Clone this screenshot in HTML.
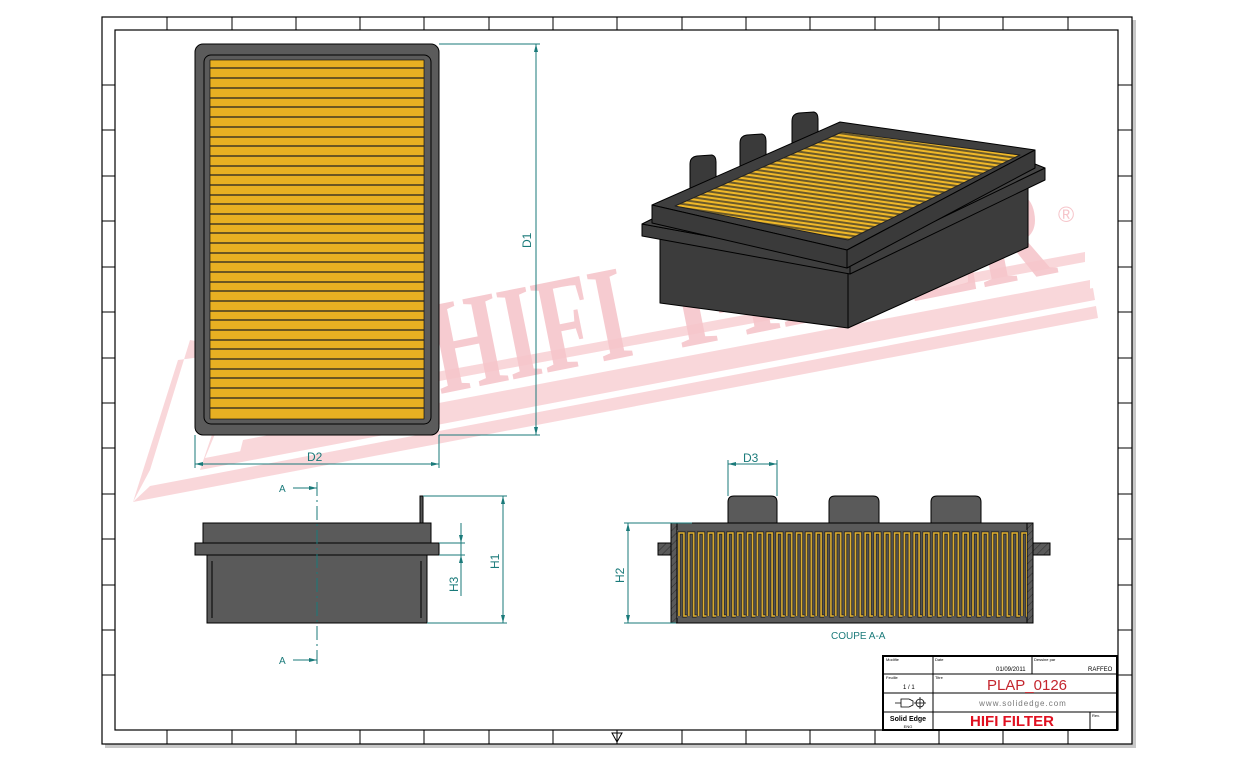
<!DOCTYPE html>
<html><head><meta charset="utf-8"><style>
html,body{margin:0;padding:0;background:#fff;}
svg{display:block;font-family:"Liberation Sans",sans-serif;}
</style></head><body>
<svg width="1233" height="762" viewBox="0 0 1233 762" xmlns="http://www.w3.org/2000/svg">
<defs>
<pattern id="pl" x="677" y="530" width="9.8" height="88" patternUnits="userSpaceOnUse">
<rect width="9.8" height="88" fill="#555"/>
<path d="M2,86 V3 H6.9 V86 H11.8" fill="none" stroke="#222" stroke-width="3.2"/>
<path d="M2,86 V3 H6.9 V86 H11.8" fill="none" stroke="#e0b030" stroke-width="1.6"/>
</pattern>
<pattern id="iso" width="6" height="4" patternUnits="userSpaceOnUse" patternTransform="rotate(8)">
<rect width="6" height="4" fill="#6b5a2a"/>
<rect y="0" width="6" height="2" fill="#f0b828"/>
</pattern>
<pattern id="hat" width="5" height="5" patternUnits="userSpaceOnUse" patternTransform="rotate(45)">
<rect width="5" height="5" fill="#5a5a5a"/><line x1="0" y1="0" x2="0" y2="5" stroke="#222" stroke-width="0.8"/>
</pattern>
</defs>
<rect width="1233" height="762" fill="#fff"/>
<rect x="105" y="20" width="1031" height="728" fill="#c8c8c8"/>
<rect x="102" y="17" width="1030" height="727" fill="#fff" stroke="#000" stroke-width="1.2"/>
<rect x="115" y="30" width="1003" height="700" fill="none" stroke="#000" stroke-width="1.2"/>
<g stroke="#000" stroke-width="1">
<line x1="167" y1="17" x2="167" y2="30"/><line x1="232" y1="17" x2="232" y2="30"/><line x1="296" y1="17" x2="296" y2="30"/><line x1="360" y1="17" x2="360" y2="30"/><line x1="424" y1="17" x2="424" y2="30"/><line x1="489" y1="17" x2="489" y2="30"/><line x1="553" y1="17" x2="553" y2="30"/><line x1="617" y1="17" x2="617" y2="30"/><line x1="682" y1="17" x2="682" y2="30"/><line x1="746" y1="17" x2="746" y2="30"/><line x1="810" y1="17" x2="810" y2="30"/><line x1="875" y1="17" x2="875" y2="30"/><line x1="939" y1="17" x2="939" y2="30"/><line x1="1003" y1="17" x2="1003" y2="30"/><line x1="1068" y1="17" x2="1068" y2="30"/>
<line x1="167" y1="730" x2="167" y2="744"/><line x1="232" y1="730" x2="232" y2="744"/><line x1="296" y1="730" x2="296" y2="744"/><line x1="360" y1="730" x2="360" y2="744"/><line x1="424" y1="730" x2="424" y2="744"/><line x1="489" y1="730" x2="489" y2="744"/><line x1="553" y1="730" x2="553" y2="744"/><line x1="617" y1="730" x2="617" y2="744"/><line x1="682" y1="730" x2="682" y2="744"/><line x1="746" y1="730" x2="746" y2="744"/><line x1="810" y1="730" x2="810" y2="744"/><line x1="875" y1="730" x2="875" y2="744"/><line x1="939" y1="730" x2="939" y2="744"/><line x1="1003" y1="730" x2="1003" y2="744"/><line x1="1068" y1="730" x2="1068" y2="744"/>
<line x1="102" y1="85" x2="115" y2="85"/><line x1="102" y1="130" x2="115" y2="130"/><line x1="102" y1="176" x2="115" y2="176"/><line x1="102" y1="221" x2="115" y2="221"/><line x1="102" y1="267" x2="115" y2="267"/><line x1="102" y1="312" x2="115" y2="312"/><line x1="102" y1="358" x2="115" y2="358"/><line x1="102" y1="403" x2="115" y2="403"/><line x1="102" y1="448" x2="115" y2="448"/><line x1="102" y1="494" x2="115" y2="494"/><line x1="102" y1="539" x2="115" y2="539"/><line x1="102" y1="585" x2="115" y2="585"/><line x1="102" y1="630" x2="115" y2="630"/><line x1="102" y1="675" x2="115" y2="675"/>
<line x1="1118" y1="85" x2="1132" y2="85"/><line x1="1118" y1="130" x2="1132" y2="130"/><line x1="1118" y1="176" x2="1132" y2="176"/><line x1="1118" y1="221" x2="1132" y2="221"/><line x1="1118" y1="267" x2="1132" y2="267"/><line x1="1118" y1="312" x2="1132" y2="312"/><line x1="1118" y1="358" x2="1132" y2="358"/><line x1="1118" y1="403" x2="1132" y2="403"/><line x1="1118" y1="448" x2="1132" y2="448"/><line x1="1118" y1="494" x2="1132" y2="494"/><line x1="1118" y1="539" x2="1132" y2="539"/><line x1="1118" y1="585" x2="1132" y2="585"/><line x1="1118" y1="630" x2="1132" y2="630"/><line x1="1118" y1="675" x2="1132" y2="675"/>
</g>
<path d="M612,733 L622,733 L617,742 Z" fill="none" stroke="#000"/>
<!-- watermark -->
<g fill="#f9d3d7" opacity="0.9">
<polygon points="133,502 178,360 240,352 200,470 1095,300 1093,288 205,458 250,350 190,340 150,470 133,502"/>
<polygon points="133,502 1098,318 1096,306 150,486"/>
<polygon points="240,452 1090,292 1090,280 243,440"/>
<polygon points="255,415 1085,262 1085,252 258,405"/>
</g>
<g font-family="Liberation Serif,serif" font-weight="bold" font-size="135" fill="#f6c6cb" opacity="0.9">
<text x="0" y="0" transform="translate(440,394) rotate(-11.3)" textLength="200" lengthAdjust="spacingAndGlyphs">HIFI</text>
<text x="0" y="0" transform="translate(680,348) rotate(-11.3)" textLength="385" lengthAdjust="spacingAndGlyphs">FILTER</text>
</g>
<text x="1058" y="222" font-size="22" fill="#f6c6cb">®</text>
<!-- top view -->
<rect x="195" y="44" width="244" height="391" rx="8" fill="#5b5b5b" stroke="#000" stroke-width="1"/>
<rect x="204" y="55" width="227" height="369" rx="7" fill="#5b5b5b" stroke="#000" stroke-width="1"/>
<rect x="210" y="60" width="214" height="359" fill="#e8b022" stroke="#000" stroke-width="0.6"/>
<g stroke="#222" stroke-width="1.2">
<line x1="210" y1="68" x2="424" y2="68"/><line x1="210" y1="78" x2="424" y2="78"/><line x1="210" y1="88" x2="424" y2="88"/><line x1="210" y1="98" x2="424" y2="98"/><line x1="210" y1="107" x2="424" y2="107"/><line x1="210" y1="117" x2="424" y2="117"/><line x1="210" y1="127" x2="424" y2="127"/><line x1="210" y1="137" x2="424" y2="137"/><line x1="210" y1="146" x2="424" y2="146"/><line x1="210" y1="156" x2="424" y2="156"/><line x1="210" y1="166" x2="424" y2="166"/><line x1="210" y1="175" x2="424" y2="175"/><line x1="210" y1="185" x2="424" y2="185"/><line x1="210" y1="195" x2="424" y2="195"/><line x1="210" y1="204" x2="424" y2="204"/><line x1="210" y1="214" x2="424" y2="214"/><line x1="210" y1="224" x2="424" y2="224"/><line x1="210" y1="233" x2="424" y2="233"/><line x1="210" y1="243" x2="424" y2="243"/><line x1="210" y1="253" x2="424" y2="253"/><line x1="210" y1="262" x2="424" y2="262"/><line x1="210" y1="272" x2="424" y2="272"/><line x1="210" y1="282" x2="424" y2="282"/><line x1="210" y1="291" x2="424" y2="291"/><line x1="210" y1="301" x2="424" y2="301"/><line x1="210" y1="311" x2="424" y2="311"/><line x1="210" y1="320" x2="424" y2="320"/><line x1="210" y1="330" x2="424" y2="330"/><line x1="210" y1="340" x2="424" y2="340"/><line x1="210" y1="349" x2="424" y2="349"/><line x1="210" y1="359" x2="424" y2="359"/><line x1="210" y1="369" x2="424" y2="369"/><line x1="210" y1="378" x2="424" y2="378"/><line x1="210" y1="388" x2="424" y2="388"/><line x1="210" y1="398" x2="424" y2="398"/><line x1="210" y1="408" x2="424" y2="408"/>
</g>
<g stroke="#1a7a7a" stroke-width="1" fill="none">
<line x1="439" y1="44" x2="540" y2="44"/><line x1="439" y1="435" x2="540" y2="435"/><line x1="536" y1="44" x2="536" y2="435"/>
<line x1="195" y1="435" x2="195" y2="468"/><line x1="439" y1="435" x2="439" y2="468"/><line x1="195" y1="464" x2="439" y2="464"/>
</g>
<g fill="#1a7a7a">
<polygon points="536,44 534,52 538,52"/><polygon points="536,435 534,427 538,427"/>
<polygon points="195,464 203,462 203,466"/><polygon points="439,464 431,462 431,466"/>
</g>
<text x="0" y="0" transform="translate(531,248) rotate(-90)" font-size="12" fill="#1a7a7a">D1</text>
<text x="307" y="461" font-size="12" fill="#1a7a7a">D2</text>
<!-- iso view -->
<g stroke="#000" stroke-width="1" stroke-linejoin="round">
<polygon points="660,234 848,272 848,328 660,303" fill="#3c3c3c"/>
<polygon points="848,272 1028,182 1028,247 848,328" fill="#3c3c3c"/>
<polygon points="642,224 850,262 850,274 642,236" fill="#3e3e3e"/>
<polygon points="850,262 1045,168 1045,180 850,274" fill="#3e3e3e"/>
<polygon points="642,224 660,215 1030,162 1045,168 850,262" fill="#444"/>
<path d="M690,200 V164 Q690,157 697,156 L712,155 Q716,156 716,162 V196 Z" fill="#3a3a3a"/>
<path d="M740,188 V143 Q740,136 747,135 L762,134 Q766,135 766,141 V182 Z" fill="#3a3a3a"/>
<path d="M792,172 V121 Q792,114 799,113 L814,112 Q818,113 818,119 V166 Z" fill="#3a3a3a"/>
<polygon points="652,205 840,122 1035,150 847,250" fill="#3f3f3f"/>
<polygon points="652,205 847,250 847,268 652,223" fill="#3a3a3a"/>
<polygon points="847,250 1035,150 1035,168 847,268" fill="#3a3a3a"/>
<polygon points="675,206 842,132 1020,155 848,240" fill="url(#iso)" stroke="#222"/>
</g>
<!-- side view -->
<g stroke="#000" stroke-width="1">
<rect x="420" y="496" width="3" height="27" fill="#555"/>
<rect x="203" y="523" width="228" height="20" fill="#5a5a5a"/>
<rect x="195" y="543" width="244" height="12" fill="#5a5a5a"/>
<rect x="207" y="555" width="220" height="68" fill="#5a5a5a"/>
<line x1="212" y1="561" x2="212" y2="618"/><line x1="421" y1="561" x2="421" y2="618"/>
</g>
<g stroke="#1a7a7a" stroke-width="1" fill="none">
<line x1="317" y1="482" x2="317" y2="665" stroke-dasharray="14,4,2,4"/>
<line x1="293" y1="488" x2="317" y2="488"/><line x1="293" y1="660" x2="317" y2="660"/>
<line x1="423" y1="496" x2="507" y2="496"/><line x1="427" y1="623" x2="507" y2="623"/><line x1="503" y1="496" x2="503" y2="623"/>
<line x1="439" y1="543" x2="465" y2="543"/><line x1="439" y1="555" x2="465" y2="555"/><line x1="461" y1="523" x2="461" y2="596"/>
</g>
<g fill="#1a7a7a">
<polygon points="317,488 309,486 309,490"/><polygon points="317,660 309,658 309,662"/>
<polygon points="503,496 501,504 505,504"/><polygon points="503,623 501,615 505,615"/>
<polygon points="461,543 459,535 463,535"/><polygon points="461,555 459,563 463,563"/>
</g>
<text x="279" y="492" font-size="10" fill="#1a7a7a">A</text>
<text x="279" y="664" font-size="10" fill="#1a7a7a">A</text>
<text x="0" y="0" transform="translate(499,569) rotate(-90)" font-size="12" fill="#1a7a7a">H1</text>
<text x="0" y="0" transform="translate(458,592) rotate(-90)" font-size="12" fill="#1a7a7a">H3</text>
<!-- section view -->
<g stroke="#000" stroke-width="1">
<path d="M728,523 V502 Q728,496 734,496 H771 Q777,496 777,502 V523 Z" fill="#5a5a5a"/>
<path d="M829,523 V502 Q829,496 835,496 H873 Q879,496 879,502 V523 Z" fill="#5a5a5a"/>
<path d="M931,523 V502 Q931,496 937,496 H975 Q981,496 981,502 V523 Z" fill="#5a5a5a"/>
<rect x="658" y="543" width="16" height="12" fill="url(#hat)"/>
<rect x="1030" y="543" width="20" height="12" fill="url(#hat)"/>
<rect x="671" y="523" width="362" height="100" fill="#5a5a5a"/>
<rect x="671" y="523" width="6" height="100" fill="url(#hat)"/>
<rect x="1027" y="523" width="6" height="100" fill="url(#hat)"/>
<rect x="677" y="530" width="350" height="88" fill="url(#pl)" stroke="none"/>
</g>
<g stroke="#1a7a7a" stroke-width="1" fill="none">
<line x1="624" y1="523" x2="692" y2="523"/><line x1="624" y1="623" x2="676" y2="623"/><line x1="628" y1="523" x2="628" y2="623"/>
<line x1="728" y1="460" x2="728" y2="496"/><line x1="777" y1="460" x2="777" y2="496"/><line x1="728" y1="464" x2="777" y2="464"/>
</g>
<g fill="#1a7a7a">
<polygon points="628,523 626,531 630,531"/><polygon points="628,623 626,615 630,615"/>
<polygon points="728,464 736,462 736,466"/><polygon points="777,464 769,462 769,466"/>
</g>
<text x="0" y="0" transform="translate(624,583) rotate(-90)" font-size="12" fill="#1a7a7a">H2</text>
<text x="743" y="462" font-size="12" fill="#1a7a7a">D3</text>
<text x="831" y="639" font-size="10" fill="#1a7a7a">COUPE A-A</text>
<!-- title block -->
<g stroke="#000" fill="none">
<rect x="883" y="656" width="234" height="74" stroke-width="2"/>
<line x1="883" y1="674" x2="1117" y2="674"/><line x1="883" y1="693" x2="1117" y2="693"/><line x1="883" y1="712" x2="1117" y2="712"/>
<line x1="933" y1="656" x2="933" y2="730"/><line x1="1032" y1="656" x2="1032" y2="674"/><line x1="1090" y1="712" x2="1090" y2="730"/>
</g>
<g font-size="4" fill="#000"><text x="886" y="661">Modifie</text><text x="935" y="661">Date</text><text x="1034" y="661">Dessine par</text><text x="886" y="679">Feuille</text><text x="935" y="679">Titre</text><text x="1092" y="717">Rev.</text></g>
<text x="996" y="671" font-size="6" fill="#000">01/09/2011</text>
<text x="1088" y="671" font-size="6" fill="#000">RAFFEO</text>
<text x="903" y="689" font-size="6" fill="#000">1 / 1</text>
<text x="1027" y="690" font-size="15" fill="#c4262e" text-anchor="middle">PLAP_0126</text>
<text x="1023" y="706" font-size="8" fill="#777" text-anchor="middle" letter-spacing="1">www.solidedge.com</text>
<text x="1012" y="726" font-size="15" font-weight="bold" fill="#e01020" text-anchor="middle">HIFI FILTER</text>
<text x="908" y="721" font-size="7" font-weight="bold" fill="#000" text-anchor="middle">Solid Edge</text>
<text x="908" y="728" font-size="4" fill="#000" text-anchor="middle">ENG</text>
<path d="M895,703 H901 M901,699 H909 L913,701 V705 L909,707 H901 Z" fill="none" stroke="#000" stroke-width="0.8"/>
<circle cx="920" cy="703" r="4" fill="none" stroke="#000" stroke-width="0.8"/>
<path d="M914,703 H926 M920,697 V709" stroke="#000" stroke-width="0.8"/>
</svg>
</body></html>
